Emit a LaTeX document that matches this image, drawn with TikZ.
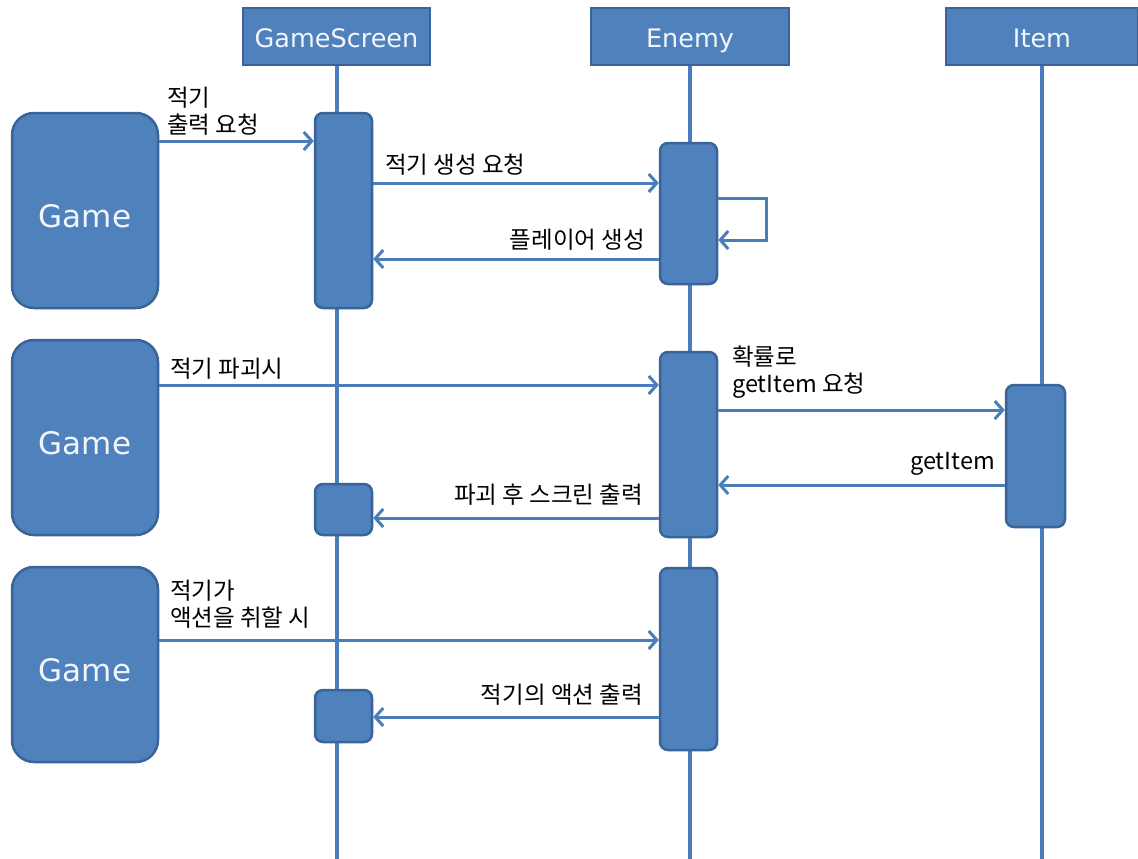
\documentclass[tikz,border=0pt]{standalone}
\usepackage{fontspec}
\setmainfont{Noto Sans CJK KR}
\newfontfamily\headfont{DejaVu Sans}
\usetikzlibrary{arrows.meta}
\definecolor{boxfill}{HTML}{4F81BD}
\definecolor{boxdraw}{HTML}{3A6497}
\definecolor{linecol}{HTML}{4A7EBB}
\definecolor{headtext}{HTML}{F2F6FC}
\tikzset{
  head/.style={draw=boxdraw, line width=2.5pt, fill=boxfill, minimum width=187, minimum height=57, inner sep=0, text height=23, text depth=0, text=headtext, font=\headfont\fontsize{25.5}{28}\selectfont},
  gamebox/.style={draw=boxdraw, line width=2.5pt, fill=boxfill, rounded corners=22, minimum width=146, minimum height=195, inner sep=0, text height=33, text depth=0, text=headtext, font=\headfont\fontsize{31}{34}\selectfont},
  actbar/.style={draw=boxdraw, line width=2.5pt, fill=boxfill, rounded corners=8, minimum width=57, inner sep=0},
  life/.style={draw=linecol, line width=4pt},
  msg/.style={draw=linecol, line width=3pt, -{Straight Barb[length=8,width=18,line width=3pt]}},
  lbl/.style={font=\fontsize{23.5}{27}\selectfont, inner sep=0, align=left}
}
\begin{document}
\begin{tikzpicture}[x=1pt,y=-1pt]
\useasboundingbox (0,0) rectangle (1138,859);
% headers
\node[head] (hgs) at (336.5,36.5) {GameScreen};
\node[head, minimum width=198] (hen) at (690,36.5) {Enemy};
\node[head, minimum width=192] (hit) at (1042,36.5) {Item};
\coordinate (bgs) at (337,859);
\coordinate (ben) at (688,859);
\coordinate (bit) at (1041,859);
\draw[life] (hgs.south) -- (hgs.south |- bgs);
\draw[life] (hen.south) -- (hen.south |- ben);
\draw[life] (hit.south) -- (hit.south |- bit);
% game boxes
\node[gamebox] (g1) at (85,210.5) {Game};
\node[gamebox] (g2) at (85,437.5) {Game};
\node[gamebox] (g3) at (85,664.5) {Game};
% activation bars
\node[actbar, minimum height=195] (gs1) at (343.5,210.5) {};
\node[actbar, minimum height=141] (en1) at (688.5,213.5) {};
\node[actbar, minimum height=185] (en2) at (688.5,444.5) {};
\node[actbar, minimum width=59, minimum height=142] (it1) at (1035.5,456) {};
\node[actbar, minimum height=51] (gs2) at (343.5,509.5) {};
\node[actbar, minimum height=182] (en3) at (688.5,659) {};
\node[actbar, minimum height=52] (gs3) at (343.5,716) {};
% messages
\draw[msg] (g1.east |- 0,141) -- (gs1.west |- 0,141);
\node[lbl, anchor=south west] (l1) at (167,136) {적기\\출력 요청};
\draw[msg] (gs1.east |- 0,183) -- (en1.west |- 0,183);
\node[lbl, anchor=south west] (l2) at (385,176) {적기 생성 요청};
\coordinate (loop) at (766,198);
\draw[msg] (en1.east |- loop) -- (loop) -- (loop |- 0,240) -- (en1.east |- 0,240);
\draw[msg] (en1.west |- 0,259) -- (gs1.east |- 0,259);
\node[lbl, anchor=south east] (l3) at (645,251) {플레이어 생성};
\draw[msg] (g2.east |- 0,385) -- (en2.west |- 0,385);
\node[lbl, anchor=south west] (l4) at (170,380) {적기 파괴시};
\draw[msg] (en2.east |- 0,410) -- (it1.west |- 0,410);
\node[lbl, anchor=south west] (l5) at (732,399) {확률로\\getItem 요청};
\draw[msg] (it1.west |- 0,485) -- (en2.east |- 0,485);
\node[lbl, anchor=south east] (l6) at (995,476) {getItem};
\draw[msg] (en2.west |- 0,518) -- (gs2.east |- 0,518);
\node[lbl, anchor=south east] (l7) at (643,506) {파괴 후 스크린 출력};
\draw[msg] (g3.east |- 0,640) -- (en3.west |- 0,640);
\node[lbl, anchor=south west] (l8) at (170,629) {적기가\\액션을 취할 시};
\draw[msg] (en3.west |- 0,717) -- (gs3.east |- 0,717);
\node[lbl, anchor=south east] (l9) at (643,706) {적기의 액션 출력};
\end{tikzpicture}
\end{document}
